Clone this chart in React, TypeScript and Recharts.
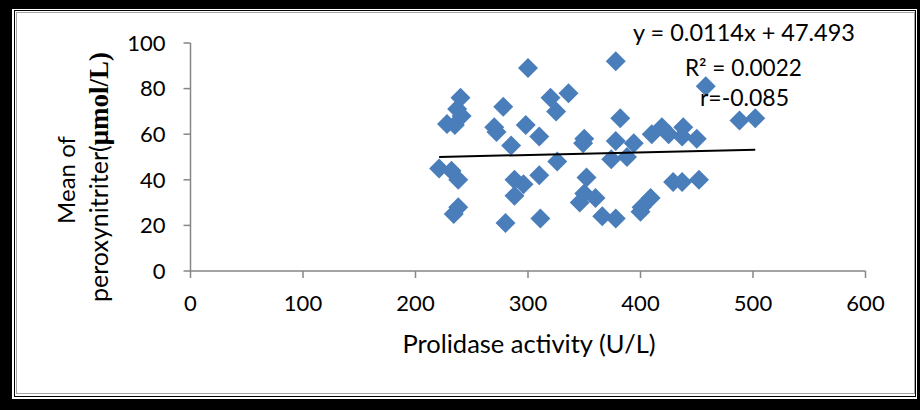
import { ScatterChart, Scatter, XAxis, YAxis } from "recharts";

// prolidase activity (U/L) and peroxynitrite (umol/L)
const prolidase = [
  221, 228, 232, 234, 235, 237, 238, 238, 240, 241,
  270, 272, 278, 280, 285, 288, 288, 296, 298, 300,
  310, 310, 311, 320, 325, 326, 336, 346, 349, 350,
  350, 352, 360, 366, 374, 378, 378, 378, 382, 388,
  394, 400, 401, 409, 410, 419, 425, 429, 437, 437,
  438, 450, 452, 458, 488, 502,
];
const peroxynitrite = [
  45, 64.5, 44, 25, 64, 71, 40, 28, 76, 68,
  63, 61, 72, 21, 55, 40, 33, 38, 64, 89,
  59, 42, 23, 76, 70, 48, 78, 30, 56, 58,
  34, 41, 32, 24, 49, 92, 57, 23, 67, 50,
  56, 26, 28, 32, 60, 63, 60, 39, 39, 59,
  63, 58, 40, 81, 66, 67,
];

const xTicks = [0, 100, 200, 300, 400, 500, 600];
const yTicks = [0, 20, 40, 60, 80, 100];

const slope = 0.0114;
const intercept = 47.493;

const points = prolidase.map((x, i) => ({ x, y: peroxynitrite[i] }));
const xMin = Math.min(...prolidase);
const xMax = Math.max(...prolidase);
const trend = [
  { x: xMin, y: slope * xMin + intercept },
  { x: xMax, y: slope * xMax + intercept },
];

const font = "Lato, 'Open Sans', sans-serif";
const tickStyle = { fill: "#000", fontSize: 22, fontFamily: font };

function Diamond(props: any) {
  const { cx, cy } = props;
  if (cx == null || cy == null) return <g />;
  const r = 10;
  return (
    <polygon
      points={`${cx},${cy - r} ${cx + r},${cy} ${cx},${cy + r} ${cx - r},${cy}`}
      fill="#4a7ebb"
    />
  );
}

export default function App() {
  return (
    <div
      style={{
        position: "absolute",
        left: 0,
        top: 0,
        width: 920,
        height: 410,
        background: "#000",
      }}
    >
      <div
        style={{
          position: "absolute",
          left: 12,
          top: 9,
          width: 905,
          height: 390,
          background: "#fff",
        }}
      />
      <div
        style={{
          position: "absolute",
          left: 14,
          top: 10,
          width: 900,
          height: 385,
          border: "1px solid #000",
        }}
      />
      <div
        style={{
          position: "absolute",
          left: 16,
          top: 12,
          width: 897,
          height: 380,
          border: "1px solid #a6a6a6",
        }}
      />
      <div style={{ position: "absolute", left: 0, top: 0 }}>
        <ScatterChart
          width={920}
          height={410}
          margin={{ top: 43, right: 54.5, bottom: 99, left: 130.5 }}
        >
          <XAxis
            type="number"
            dataKey="x"
            domain={[0, 600]}
            ticks={xTicks}
            height={40}
            tick={tickStyle}
            stroke="#868686"
            strokeWidth={1.5}
            tickSize={7}
            tickMargin={17}
          />
          <YAxis
            type="number"
            dataKey="y"
            domain={[0, 100]}
            ticks={yTicks}
            width={60}
            tick={tickStyle}
            stroke="#868686"
            strokeWidth={1.5}
            tickSize={7}
            tickMargin={18}
          />
          <Scatter
            data={points}
            shape={Diamond}
            isAnimationActive={false}
          />
          <Scatter
            data={trend}
            line={{ stroke: "#000", strokeWidth: 2 }}
            shape={() => <g />}
            isAnimationActive={false}
          />
        </ScatterChart>
      </div>
      <svg
        width={920}
        height={410}
        style={{ position: "absolute", left: 0, top: 0, pointerEvents: "none" }}
      >
        <g fontFamily={font} fill="#000">
          <text x={855} y={41} fontSize={23.5} textAnchor="end">
            y = 0.0114x + 47.493
          </text>
          <text x={685} y={76} fontSize={22.5}>R² = 0.0022</text>
          <text x={700} y={106} fontSize={23}>r=-0.085</text>
          <text x={529} y={353} fontSize={25.5} textAnchor="middle">
            Prolidase activity (U/L)
          </text>
          <text
            x={75}
            y={180}
            textAnchor="middle"
            transform="rotate(-90 75 180)"
            fontSize={24}
          >
            Mean of
          </text>
          <text
            x={108}
            y={177}
            textAnchor="middle"
            transform="rotate(-90 108 177)"
            fontSize={25}
          >
            peroxynitriter(
            <tspan
              fontFamily="'Liberation Serif', serif"
              fontWeight="bold"
              fontSize={27}
            >
              μmol/L)
            </tspan>
          </text>
        </g>
      </svg>
    </div>
  );
}
